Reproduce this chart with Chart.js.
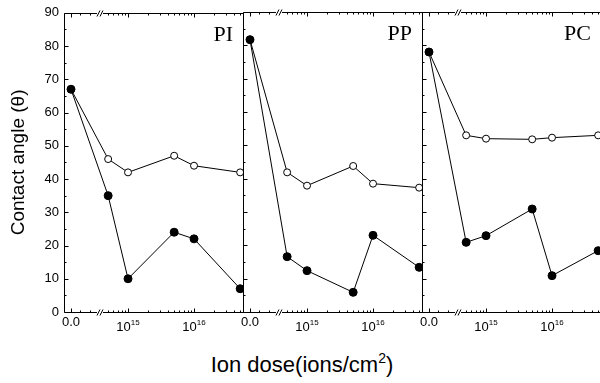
<!DOCTYPE html>
<html>
<head>
<meta charset="utf-8">
<script src="https://cdn.jsdelivr.net/npm/chart.js@4.4.0/dist/chart.umd.min.js"></script>
<style>
  body { margin: 0; background: #fff; width: 600px; height: 383px; overflow: hidden; position: relative; font-family: Arial, "Liberation Sans", sans-serif; }
  canvas { position: absolute; top: 0; }
  #xlabel { position: absolute; left: 0; width: 604px; top: 354px; text-align: center; font-size: 22px; line-height: 22px; color: #000; }
  #xlabel sup { font-size: 14px; vertical-align: 9px; line-height: 0; }
</style>
</head>
<body>
<canvas id="c1" width="254" height="340" style="left:0"></canvas>
<canvas id="c2" width="200" height="340" style="left:233px"></canvas>
<canvas id="c3" width="200" height="340" style="left:412px"></canvas>
<div id="xlabel">Ion dose(ions/cm<sup>2</sup>)</div>
<script>
// data
const doses = [0, 5e14, 1e15, 5e15, 1e16, 5e16];
const panelNames = ['PI', 'PP', 'PC'];
const filledPI = [67, 35, 10, 24, 22, 7];
const openPI   = [67, 46, 42, 47, 44, 42];
const filledPP = [81.7, 16.6, 12.4, 5.9, 23, 13.4];
const openPP   = [81.7, 41.9, 37.9, 43.8, 38.5, 37.3];
const filledPC = [78, 20.9, 22.9, 30.9, 10.9, 18.4];
const openPC   = [78, 53, 52, 51.8, 52.3, 53];

const yTicks = [0, 10, 20, 30, 40, 50, 60, 70, 80, 90];
const xTickDose = [0, 1e15, 1e16];
const xTickText = ['0.0', '10', '10'];
const xTickExp = ['', '15', '16'];
const linMinorDose = [1e14, 2e14];
const logMinorDose = [5e14, 6e14, 7e14, 8e14, 9e14, 2e15, 3e15, 4e15, 5e15, 6e15, 7e15, 8e15, 9e15, 2e16, 3e16, 4e16, 5e16];

// broken axis: short linear piece for 0, then log10 of dose
const ZERO_U = 14.136;
const LIN_STEP = 0.141; // per 1e14
const BREAK_U = 14.575;
const X_MIN = 14.03, X_MAX = 16.742;
function toU(d) {
  if (d < 3e14) return ZERO_U + d / 1e14 * LIN_STEP;
  return Math.log10(d);
}

const frame = {
  id: 'frame',
  afterDraw(chart, args, opts) {
    const ctx = chart.ctx, a = chart.chartArea, x = chart.scales.x, y = chart.scales.y;
    const L = Math.round(a.left) + 0.5, R = Math.round(a.right) + 0.5;
    const T = Math.round(a.top) + 0.5, B = Math.round(a.bottom) + 0.5;
    ctx.save();
    ctx.strokeStyle = '#000';
    ctx.lineWidth = 1;
    ctx.beginPath();
    ctx.moveTo(L, T); ctx.lineTo(R, T);
    ctx.moveTo(L, B); ctx.lineTo(R, B);
    ctx.moveTo(L, T); ctx.lineTo(L, B);
    ctx.moveTo(R, T); ctx.lineTo(R, B);
    // y ticks, inward
    for (let v = 0; v <= 90; v += 5) {
      const py = Math.round(y.getPixelForValue(v)) + 0.5;
      const len = v % 10 === 0 ? 4 : 2;
      ctx.moveTo(L, py); ctx.lineTo(L + len, py);
    }
    // x ticks, bottom and top
    const tick = (d, len) => {
      const px = Math.round(x.getPixelForValue(toU(d))) + 0.5;
      ctx.moveTo(px, B); ctx.lineTo(px, B - len);
      ctx.moveTo(px, T); ctx.lineTo(px, T + len);
    };
    xTickDose.forEach(d => tick(d, 4));
    linMinorDose.forEach(d => tick(d, 2));
    logMinorDose.forEach(d => tick(d, 2));
    ctx.stroke();
    // break marks
    const bx = x.getPixelForValue(BREAK_U);
    [B, T].forEach(yy => {
      ctx.fillStyle = '#fff';
      ctx.fillRect(bx - 3, yy - 1, 6, 2);
      ctx.beginPath();
      for (let k = 0; k < 2; k++) {
        ctx.moveTo(bx - 3 + k * 3, yy + 3);
        ctx.lineTo(bx + k * 3, yy - 3);
      }
      ctx.stroke();
    });
    // x tick labels
    ctx.fillStyle = '#000';
    xTickDose.forEach((d, i) => {
      const px = x.getPixelForValue(toU(d));
      if (!xTickExp[i]) {
        ctx.font = '13px Arial, "Liberation Sans"';
        ctx.textAlign = 'center';
        ctx.textBaseline = 'alphabetic';
        ctx.fillText(xTickText[i], px, a.bottom + 14);
      } else {
        ctx.font = '13px Arial, "Liberation Sans"';
        const w1 = ctx.measureText(xTickText[i]).width;
        ctx.font = '8px Arial, "Liberation Sans"';
        const w2 = ctx.measureText(xTickExp[i]).width;
        const x0 = px - (w1 + w2) / 2;
        ctx.textAlign = 'left';
        ctx.font = '13px Arial, "Liberation Sans"';
        ctx.fillText(xTickText[i], x0, a.bottom + 19);
        ctx.font = '8px Arial, "Liberation Sans"';
        ctx.fillText(xTickExp[i], x0 + w1, a.bottom + 13);
      }
    });
    // panel name
    ctx.font = '22px "Liberation Serif", "Times New Roman", serif';
    ctx.textAlign = 'right';
    ctx.fillText(opts.name, a.right - 10, a.top + 28);
    ctx.restore();
  }
};

function series(vals, filled) {
  return {
    data: doses.map((d, i) => ({ x: toU(d), y: vals[i] })),
    borderColor: '#000',
    borderWidth: 1,
    backgroundColor: filled ? '#000' : '#fff',
    pointBackgroundColor: filled ? '#000' : '#fff',
    pointBorderColor: '#000',
    pointBorderWidth: 1,
    pointRadius: filled ? 4 : 3.5,
    tension: 0
  };
}

function makePanel(id, name, filled, open, first) {
  const yScale = first ? {
    min: 0, max: 90,
    afterBuildTicks: s => { s.ticks = yTicks.map(v => ({ value: v })); },
    ticks: { color: '#000', font: { family: 'Arial, "Liberation Sans"', size: 13 }, padding: 5 },
    grid: { display: false, drawTicks: false },
    border: { display: false },
    title: { display: true, text: 'Contact angle (θ)', color: '#000', font: { family: 'Arial, "Liberation Sans"', size: 19 }, padding: { top: 7, bottom: 0 } },
    afterFit: s => { s.width = 64; }
  } : { min: 0, max: 90, display: false };

  new Chart(document.getElementById(id), {
    type: 'line',
    data: { datasets: [series(filled, true), series(open, false)] },
    options: {
      responsive: false,
      animation: false,
      devicePixelRatio: 1,
      layout: { autoPadding: false, padding: { top: 12, right: 11, bottom: 28, left: first ? 0 : 10 } },
      plugins: { legend: { display: false }, tooltip: { enabled: false }, frame: { name: name } },
      scales: {
        x: { type: 'linear', min: X_MIN, max: X_MAX, display: false },
        y: yScale
      }
    },
    plugins: [frame]
  });
}

makePanel('c1', panelNames[0], filledPI, openPI, true);
makePanel('c2', panelNames[1], filledPP, openPP, false);
makePanel('c3', panelNames[2], filledPC, openPC, false);
</script>
</body>
</html>
